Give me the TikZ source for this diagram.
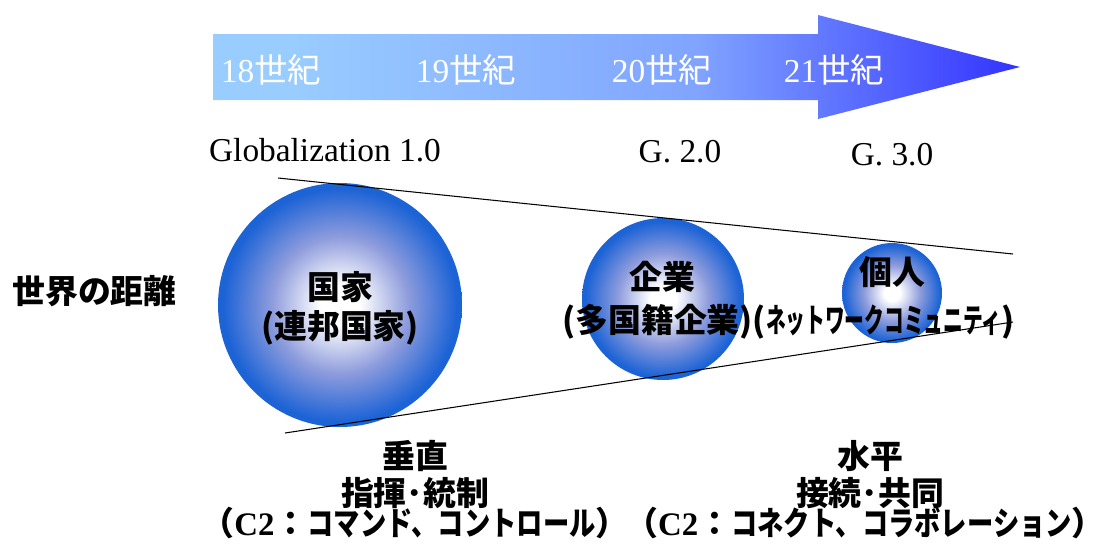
\documentclass[tikz,border=0pt]{standalone}
\usepackage{fontspec}
\setmainfont{Liberation Serif}
\newfontfamily\cjk{Noto Sans CJK JP}
\usepackage{graphicx}
\definecolor{arL}{HTML}{99CCFF}
\definecolor{arM}{HTML}{80A4FF}
\definecolor{arR}{HTML}{3333FF}
\definecolor{ballE}{HTML}{1C63D6}
\definecolor{ballM}{HTML}{8E9CDC}
\pgfdeclarehorizontalshading{arrowsh}{100bp}{color(0bp)=(arL); color(30bp)=(arL); color(55bp)=(arM); color(75bp)=(arR); color(100bp)=(arR)}
\pgfdeclareradialshading{ballsh}{\pgfpoint{0bp}{0bp}}{color(0bp)=(white); color(4bp)=(white); color(14bp)=(ballM); color(24bp)=(ballE); color(50bp)=(ballE)}
\tikzset{
  ball/.style={circle, shading=ballsh, inner sep=0pt},
  yearlbl/.style={text=white, font=\fontsize{19}{22}\selectfont, inner sep=0pt},
  glbl/.style={text=black, font=\fontsize{19}{22}\selectfont, inner sep=0pt},
  jp/.style={text=black, font=\cjk\bfseries\fontsize{18.7}{22}\selectfont, inner sep=0pt},
  tight/.style={text height=0.85em, text depth=0.2em},
  edge/.style={draw=black, line width=0.6pt}
}
\newcommand\yr[1]{#1{\cjk 世紀}}
\newcommand\nar[1]{\scalebox{0.6}[1]{#1}}
\newcommand\narb[1]{\scalebox{0.8}[1]{#1}}
\begin{document}
\begin{tikzpicture}[x=0.02cm, y=-0.02cm]
\useasboundingbox (0,0) rectangle (1101,556);
% arrow
\path[shading=arrowsh] (213,34) -- (818,34) -- (818,15) -- (1020,67) -- (818,119) -- (818,100) -- (213,100) -- cycle;
\node[yearlbl] (y18) at (271,70) {\yr{18}};
\node[yearlbl] (y19) at (466,70) {\yr{19}};
\node[yearlbl] (y20) at (662,70) {\yr{20}};
\node[yearlbl] (y21) at (834,70) {\yr{21}};
% globalization labels
\node[glbl] (g1) at (325,150) {Globalization 1.0};
\node[glbl] (g2) at (680,152) {G. 2.0};
\node[glbl] (g3) at (892,155) {G. 3.0};
% circles
\node[ball, minimum size=4.88cm] (c1) at (340,305) {};
\node[ball, minimum size=3.24cm] (c2) at (663,299) {};
\node[ball, minimum size=2.0cm] (c3) at (892,293) {};
% funnel lines
\coordinate (ua) at (278,178);
\coordinate (ub) at (1013,254);
\coordinate (la) at (285,433);
\coordinate (lb) at (1013,322);
\draw[edge] (ua) -- (ub);
\draw[edge] (la) -- (lb);
% texts
\node[jp, anchor=west] (dist) at (12,291) {世界の距離};
\node[jp] (t1a) at (340,287) {国家};
\node[jp] (t1b) at (340,328) {(連邦国家)};
\node[jp] (t2a) at (662,277) {企業};
\node[jp, anchor=west] (t2b) at (562,322) {(多国籍企業)(\nar{ネットワークコミュニティ})};
\node[jp] (t3a) at (892,272) {個人};
% bottom
\node[jp] (b1a) at (415,456) {垂直};
\node[jp] (b1b) at (415,493) {指揮･統制};
\node[jp, tight] (b1c) at (415,530) {（{\rmfamily\bfseries C2}：\narb{コマンド、コントロール}）};
\node[jp] (b2a) at (870,456) {水平};
\node[jp] (b2b) at (870,493) {接続･共同};
\node[jp, tight] (b2c) at (865,530) {（{\rmfamily\bfseries C2}：\narb{コネクト、コラボレーション}）};
\end{tikzpicture}
\end{document}
